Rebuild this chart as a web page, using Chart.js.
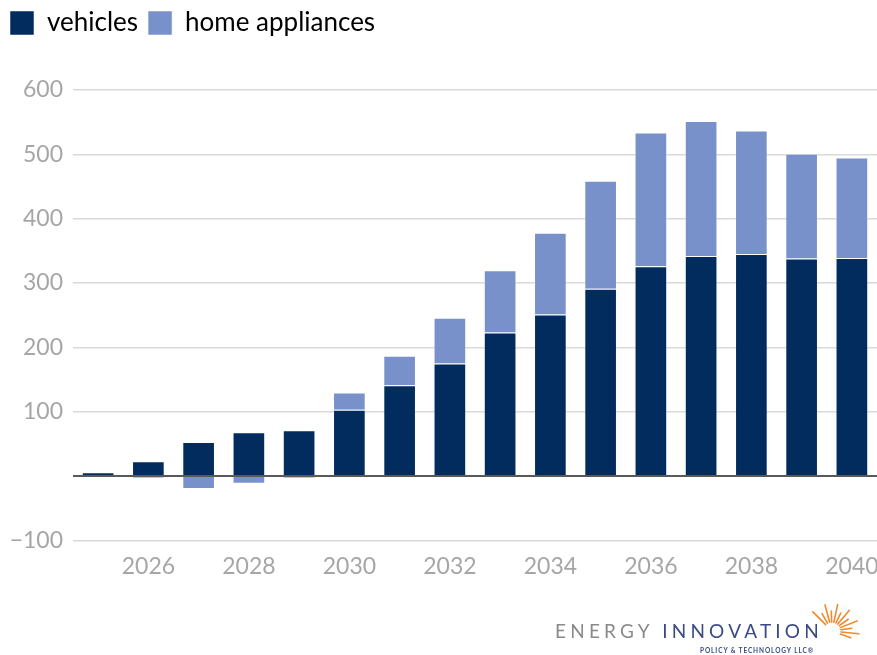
<!DOCTYPE html>
<html>
<head>
<meta charset="utf-8">
<script src="https://cdn.jsdelivr.net/npm/chart.js@4.4.1/dist/chart.umd.min.js"></script>
<style>
  html, body { margin: 0; padding: 0; background: #ffffff; }
  #wrap { position: relative; width: 877px; height: 655px; overflow: hidden; }
  #chart { position: absolute; left: 0; top: 0; }
  #logo { position: absolute; left: 555px; top: 620px; font-family: Lato, "DejaVu Sans", sans-serif; white-space: nowrap; }
  #logo .l1 { font-size: 19px; letter-spacing: 4.2px; line-height: 22px; }
  #logo .e { color: #8a8a8a; }
  #logo .i { color: #3a4a86; }
  #logo .l2 { position: absolute; left: 145px; top: 27px; font-size: 6.5px; font-weight: bold; color: #3a4a86; letter-spacing: 0.9px; }
  #sun { position: absolute; left: 800px; top: 597px; }
</style>
</head>
<body>
<div id="wrap">
  <canvas id="chart" width="877" height="655"></canvas>
  <div id="logo"><div class="l1"><span class="e">ENERGY </span><span class="i">INNOVATION</span></div><div class="l2">POLICY &amp; TECHNOLOGY LLC®</div></div>
  <svg id="sun" width="70" height="50" viewBox="0 0 70 50"></svg>
</div>
<script>
// ---- data ----
const years = ["2025","2026","2027","2028","2029","2030","2031","2032","2033","2034","2035","2036","2037","2038","2039","2040"];
const vehicles = [6, 23, 53, 68, 71, 103, 141, 175, 223, 251, 291, 326, 342, 345, 338, 339];
const homeAppliances = [0, -3, -20, -12, -3, 27, 46, 71, 97, 127, 168, 208, 210, 192, 163, 156];
const yTicks = [-100, 0, 100, 200, 300, 400, 500, 600];
const seriesNames = ["vehicles", "home appliances"];

// sunburst rays for logo
(function(){
  const svg = document.getElementById('sun');
  const cx = 32, cy = 34;
  const angles = [-135,-120,-105,-92,-78,-64,-50,-36,-22,-8,6,20];
  angles.forEach((a, k) => {
    const r = a * Math.PI / 180;
    const r0 = 9, r1 = (k % 2 === 0) ? 27 : 20;
    const l = document.createElementNS('http://www.w3.org/2000/svg','line');
    l.setAttribute('x1', cx + r0*Math.cos(r)); l.setAttribute('y1', cy + r0*Math.sin(r));
    l.setAttribute('x2', cx + r1*Math.cos(r)); l.setAttribute('y2', cy + r1*Math.sin(r));
    l.setAttribute('stroke', '#f08a2c'); l.setAttribute('stroke-width', '1.6'); l.setAttribute('stroke-linecap','round');
    svg.appendChild(l);
  });
})();

const legendSpacer = {
  id: 'legendSpacer',
  beforeInit(chart) {
    const origFit = chart.legend.fit;
    chart.legend.fit = function() {
      origFit.bind(chart.legend)();
      this.height += 44;
    };
  }
};

const tickColor = '#a6a6a6';
const fontFamily = 'Lato, "DejaVu Sans", sans-serif';

new Chart(document.getElementById('chart'), {
  type: 'bar',
  data: {
    labels: years,
    datasets: [
      { label: seriesNames[0], data: vehicles, backgroundColor: '#012c5d', borderColor: 'rgba(255,255,255,0.18)', borderWidth: 1 },
      { label: seriesNames[1], data: homeAppliances, backgroundColor: '#7891ca', borderColor: 'rgba(255,255,255,0.3)', borderWidth: 1 }
    ]
  },
  plugins: [legendSpacer],
  options: {
    responsive: false,
    animation: false,
    devicePixelRatio: 1,
    layout: { padding: { left: 0, right: 0, top: 0, bottom: 63 } },
    datasets: { bar: { categoryPercentage: 0.65, barPercentage: 1 } },
    plugins: {
      tooltip: { enabled: false },
      legend: {
        display: true,
        position: 'top',
        align: 'start',
        labels: {
          boxWidth: 24, boxHeight: 24, padding: 10,
          color: '#595959',
          font: { family: fontFamily, size: 26 },
          generateLabels(chart) {
            return chart.data.datasets.map((ds, i) => ({
              text: ds.label, fillStyle: ds.backgroundColor, strokeStyle: 'rgba(255,255,255,0.5)', lineWidth: 1, datasetIndex: i, hidden: false
            }));
          }
        }
      }
    },
    scales: {
      x: {
        stacked: true,
        grid: { display: false, drawTicks: false },
        border: { display: false },
        afterFit(scale) { scale.paddingLeft = 0; scale.paddingRight = 0; },
        ticks: {
          color: tickColor, font: { family: fontFamily, size: 23 }, padding: 12,
          autoSkip: false, maxRotation: 0,
          callback(v, i) { return (i % 2 === 1) ? years[i] : ''; }
        }
      },
      y: {
        stacked: true,
        min: yTicks[0], max: yTicks[yTicks.length - 1],
        afterBuildTicks(scale) { scale.ticks = yTicks.map(v => ({ value: v })); },
        afterFit(scale) { scale.width = 73; },
        border: { display: false },
        grid: {
          drawTicks: false,
          color: ctx => ctx.tick && ctx.tick.value === 0 ? '#595959' : '#d9d9d9',
          lineWidth: ctx => ctx.tick && ctx.tick.value === 0 ? 2 : 1.5
        },
        ticks: {
          color: tickColor, font: { family: fontFamily, size: 23 }, padding: 10,
          callback(v) { return v === 0 ? '' : (v < 0 ? '\u2212' + Math.abs(v) : String(v)); }
        }
      }
    }
  }
});
</script>
</body>
</html>
